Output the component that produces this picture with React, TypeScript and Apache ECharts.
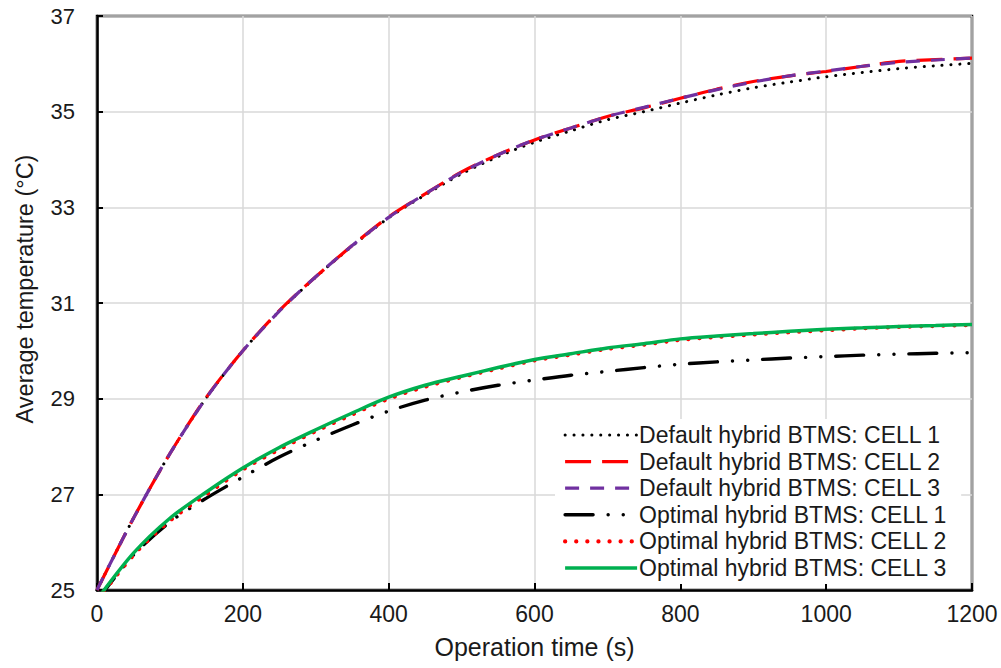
import React, { useEffect, useRef } from "react";
import * as echarts from "echarts";

const times = [0, 50, 100, 150, 200, 250, 300, 350, 400, 450, 500, 550, 600, 650, 700, 750, 800, 850, 900, 950, 1000, 1050, 1100, 1150, 1200];

const defaultCell1 = [25.0, 26.5, 27.85, 29.02, 30.0, 30.83, 31.54, 32.19, 32.78, 33.26, 33.7, 34.06, 34.36, 34.6, 34.83, 35.0, 35.18, 35.35, 35.5, 35.62, 35.73, 35.82, 35.9, 35.96, 36.01];
const defaultCell2 = [25.0, 26.5, 27.85, 29.03, 30.0, 30.84, 31.55, 32.2, 32.8, 33.28, 33.74, 34.1, 34.41, 34.66, 34.9, 35.08, 35.28, 35.47, 35.63, 35.75, 35.84, 35.95, 36.05, 36.09, 36.12];
const defaultCell3 = [25.0, 26.5, 27.85, 29.02, 30.0, 30.83, 31.55, 32.2, 32.79, 33.28, 33.73, 34.1, 34.41, 34.66, 34.9, 35.09, 35.28, 35.46, 35.62, 35.75, 35.85, 35.95, 36.03, 36.08, 36.12];
const optimalCell1 = [24.78, 25.73, 26.42, 26.92, 27.36, 27.78, 28.13, 28.45, 28.74, 28.97, 29.14, 29.28, 29.39, 29.49, 29.57, 29.65, 29.72, 29.77, 29.81, 29.85, 29.88, 29.91, 29.93, 29.95, 29.96];
const optimalCell2 = [24.78, 25.73, 26.45, 27.0, 27.52, 27.94, 28.32, 28.67, 29.0, 29.25, 29.45, 29.63, 29.8, 29.92, 30.04, 30.13, 30.23, 30.29, 30.34, 30.39, 30.43, 30.47, 30.5, 30.52, 30.54];
const optimalCell3 = [24.8, 25.77, 26.5, 27.05, 27.55, 27.98, 28.35, 28.7, 29.03, 29.28, 29.47, 29.65, 29.82, 29.94, 30.06, 30.15, 30.25, 30.31, 30.36, 30.41, 30.45, 30.48, 30.51, 30.53, 30.55];

const seriesNames = [
  "Default hybrid BTMS: CELL 1",
  "Default hybrid BTMS: CELL 2",
  "Default hybrid BTMS: CELL 3",
  "Optimal hybrid BTMS: CELL 1",
  "Optimal hybrid BTMS: CELL 2",
  "Optimal hybrid BTMS: CELL 3",
];

const xTicks = { min: 0, max: 1200, interval: 200 };
const yTicks = { min: 25, max: 37, interval: 2 };

const FONT = "Liberation Sans";

export default function App() {
  const ref = useRef<HTMLDivElement>(null);
  useEffect(() => {
    if (!ref.current) return;
    const chart = echarts.init(ref.current, null, { renderer: "svg" });
    const pair = (arr: number[]) => times.map((t, i) => [t, arr[i]]);
    const styles: any[] = [
      { color: "#000000", width: 3, type: [0.1, 8.8], cap: "round" },
      { color: "#ff0000", width: 3.2, type: [26, 11], cap: "butt" },
      { color: "#7030a0", width: 3.2, type: [14, 11], cap: "butt" },
      { color: "#000000", width: 3.4, type: [28, 15, 0.1, 15, 0.1, 15], cap: "round" },
      { color: "#ff0000", width: 4.2, type: [0.1, 11], cap: "round" },
      { color: "#00b050", width: 3.5, type: "solid", cap: "butt" },
    ];
    const datas = [defaultCell1, defaultCell2, defaultCell3, optimalCell1, optimalCell2, optimalCell3];
    const series = datas.map((d, i) => ({
      name: seriesNames[i],
      type: "line",
      data: pair(d),
      smooth: 0.3,
      symbol: "none",
      showSymbol: false,
      clip: true,
      lineStyle: {
        color: styles[i].color,
        width: styles[i].width,
        type: styles[i].type,
        cap: styles[i].cap,
      },
      itemStyle: { color: styles[i].color },
      z: 2 + i,
    }));
    chart.setOption({
      animation: false,
      backgroundColor: "#ffffff",
      textStyle: { fontFamily: FONT },
      grid: {
        left: 97,
        right: 29,
        top: 16,
        bottom: 78,
        show: true,
        borderColor: "#000",
        borderWidth: 2.5,
        backgroundColor: "transparent",
      },
      legend: {
        orient: "vertical",
        left: 555,
        top: 419,
        padding: [4, 14, 4, 8],
        backgroundColor: "#ffffff",
        itemWidth: 72,
        itemHeight: 12,
        itemGap: 2.6,
        data: seriesNames,
        itemStyle: { opacity: 0 },
        lineStyle: { width: "inherit", type: "inherit", cap: "inherit", color: "inherit" },
        textStyle: { fontFamily: FONT, fontSize: 23, color: "#1a1a1a", lineHeight: 24, padding: [0, 0, 0, -3] },
      },
      xAxis: {
        type: "value",
        min: xTicks.min,
        max: xTicks.max,
        interval: xTicks.interval,
        name: "Operation time (s)",
        nameLocation: "middle",
        nameGap: 44,
        nameTextStyle: { fontFamily: FONT, fontSize: 25, color: "#1a1a1a" },
        axisLine: { show: true, lineStyle: { color: "#000", width: 2.5 } },
        axisTick: { show: true, inside: true, length: 7, lineStyle: { color: "#000", width: 2 } },
        axisLabel: { fontFamily: FONT, fontSize: 23, color: "#1a1a1a", margin: 12, formatter: (v: number) => String(v) },
        splitLine: { show: true, lineStyle: { color: "#d9d9d9", width: 1.5 } },
      },
      yAxis: {
        type: "value",
        min: yTicks.min,
        max: yTicks.max,
        interval: yTicks.interval,
        name: "Average temperature (\u00B0C)",
        nameLocation: "middle",
        nameGap: 60,
        nameTextStyle: { fontFamily: FONT, fontSize: 23.5, color: "#1a1a1a", padding: [0, 0, 0, 28] },
        axisLine: { show: true, lineStyle: { color: "#000", width: 2.5 } },
        axisTick: { show: true, inside: true, length: 6, lineStyle: { color: "#000", width: 2 } },
        axisLabel: { fontFamily: FONT, fontSize: 22, color: "#1a1a1a", margin: 22 },
        splitLine: { show: true, lineStyle: { color: "#d9d9d9", width: 1.5 } },
      },
      series,
    });
    return () => chart.dispose();
  }, []);
  return <div ref={ref} style={{ width: 1001, height: 668, position: "fixed", left: 0, top: 0 }} />;
}
